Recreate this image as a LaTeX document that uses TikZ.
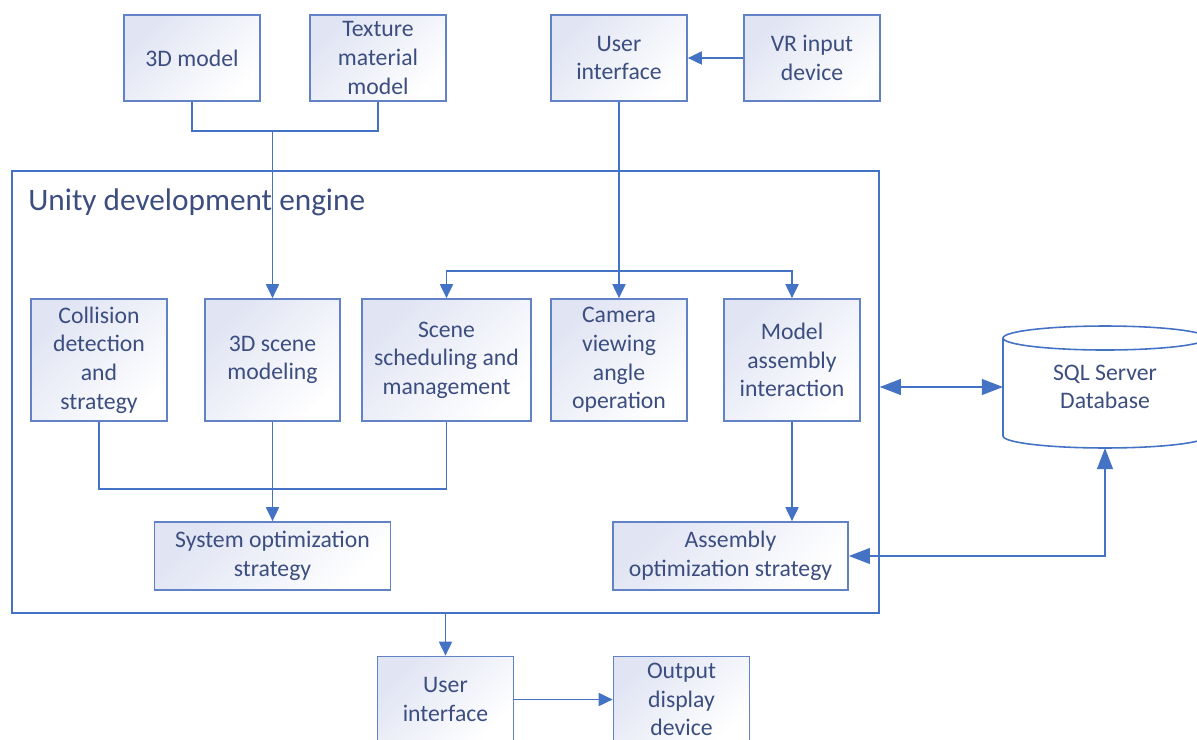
\documentclass[tikz,border=0pt]{standalone}
\usepackage{fontspec}
\setmainfont{Carlito}
\usepackage{tikz}
\usetikzlibrary{arrows.meta,positioning,calc,shapes.geometric}
\usepackage{xcolor}
\definecolor{unityblue}{RGB}{68,114,196}
\definecolor{boxedge}{RGB}{98,130,200}
\definecolor{boxtext}{RGB}{60,78,128}
\definecolor{boxtint}{RGB}{224,228,243}

\begin{document}
\begin{tikzpicture}[x=0.02cm, y=-0.02cm,
    box/.style={draw=boxedge, line width=1pt, top color=boxtint, bottom color=white, shading angle=45,
                minimum width=2.72cm, minimum height=1.72cm, inner sep=1pt, align=center,
                text=boxtext, font=\fontsize{13.5}{16.3}\selectfont},
    tallbox/.style={box, minimum height=2.44cm},
    widebox/.style={box, minimum width=4.72cm, minimum height=1.36cm},
    wire/.style={unityblue, line width=0.9pt},
    arr/.style={wire, -{Triangle[length=8pt, width=7.5pt]}},
    dbarr/.style={wire, {Triangle[length=12pt, width=9pt]}-{Triangle[length=12pt, width=9pt]}}
]
\useasboundingbox (0,0) rectangle (1197,740);

\node[box] (m3d) at (192,58) {3D model};
\node[box] (tex) at (378,58) {Texture\\material\\model};
\node[box] (uitop) at (619,58) {User\\interface};
\node[box] (vr) at (812,58) {VR input\\device};

\node[draw=unityblue, line width=0.9pt, minimum width=17.34cm, minimum height=8.84cm] (unity) at (445.5,392) {};
\node[anchor=base west, inner sep=0pt, text=boxtext, font=\fontsize{17.8}{21}\selectfont] (title) at (28,210) {Unity development engine};

\node[tallbox] (coll) at (99,360) {Collision\\detection\\and\\strategy};
\node[tallbox, minimum width=2.7cm] (scene3d) at (272.5,360) {3D scene\\modeling};
\node[tallbox, minimum width=3.38cm] (sched) at (446.5,360) {Scene\\scheduling and\\management};
\node[tallbox] (cam) at (619,360) {Camera\\viewing\\angle\\operation};
\node[tallbox] (asm) at (792,360) {Model\\assembly\\interaction};
\node[widebox] (sysopt) at (272.5,556) {System optimization\\strategy};
\node[widebox, minimum width=4.7cm] (asmopt) at (730.5,556) {Assembly\\optimization strategy};

\node[minimum width=4.08cm, minimum height=2.44cm, inner sep=0pt, outer sep=0pt, align=center, text=boxtext,
      font=\fontsize{13.5}{16.3}\selectfont] (db) at (1105,387) {SQL Server\\Database};
\draw[wire] ($(db.north west)+(0,12)$) -- ($(db.south west)+(0,-12)$)
    arc[start angle=180, end angle=360, x radius=2.04cm, y radius=0.24cm]
    -- ($(db.north east)+(0,12)$);
\draw[wire] ($(db.north)+(0,12)$) ellipse[x radius=2.04cm, y radius=0.24cm];

\node[box] (uibot) at (445.5,699.5) {User\\interface};
\node[box] (outdev) at (681.5,699.5) {Output\\display\\device};

\coordinate (join1) at (272.5,131);
\coordinate (split) at (619,271);
\coordinate (join2) at (272.5,489);

\draw[wire] (m3d.south) |- (join1) -| (tex.south);
\draw[arr] (join1) -- (scene3d.north);
\draw[arr] (vr) -- (uitop);
\draw[arr] (uitop) -- (cam);
\draw[arr] (split) -| (sched.north);
\draw[arr] (split) -| (asm.north);
\draw[wire] (coll.south) |- (join2) -| (sched.south);
\draw[arr] (scene3d.south) -- (sysopt.north);
\draw[arr] (asm.south) -- (asm.south |- asmopt.north);
\draw[dbarr] (unity.east |- db.west) -- (db.west);
\draw[dbarr] (asmopt.east) -| (db.south);
\draw[arr] (unity.south) -- (uibot.north);
\draw[arr] (uibot) -- (outdev);
\end{tikzpicture}
\end{document}
